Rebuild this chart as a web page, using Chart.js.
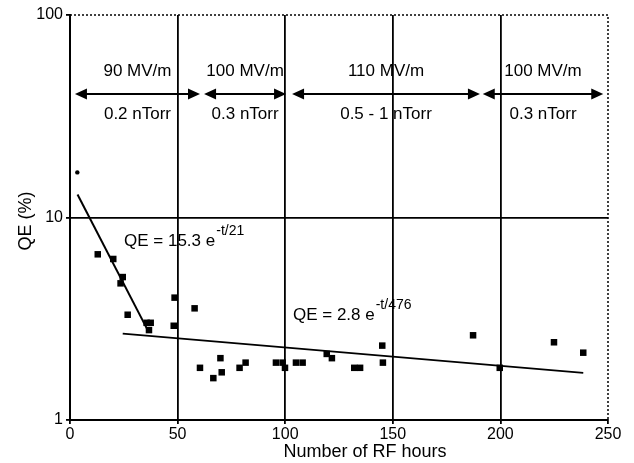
<!DOCTYPE html>
<html>
<head>
  <meta charset="utf-8">
  <title>QE vs RF hours</title>
  <script src="https://cdn.jsdelivr.net/npm/chart.js@4.4.0/dist/chart.umd.min.js"></script>
  <style>
    html, body { margin: 0; padding: 0; background: #fff; }
    #wrap { width: 634px; height: 463px; position: relative; }
  </style>
</head>
<body>
  <div id="wrap"><canvas id="qeChart"></canvas></div>
  <script>
    // measured points (hours, QE %)
    var hours = [3.4, 12.9, 20.1, 24.5, 23.5, 26.8, 35.6, 37.5, 36.7, 48.6, 48.2, 57.9, 60.4, 66.6, 69.9, 70.5,
                 78.8, 81.6, 95.7, 98.8, 99.9, 105, 108.1, 119.3, 121.7, 132.1, 134.8, 145.1, 145.4, 187.3,
                 199.7, 224.9, 238.5];
    var qe = [16.7, 6.58, 6.24, 5.08, 4.73, 3.31, 3.02, 3.02, 2.78, 4.02, 2.92, 3.56, 1.81, 1.61, 2.02, 1.72,
              1.81, 1.92, 1.92, 1.92, 1.81, 1.92, 1.92, 2.12, 2.02, 1.81, 1.81, 2.33, 1.92, 2.62,
              1.81, 2.42, 2.15];

    // fit lines (end points)
    var fit1Hours = [3.5, 36.7];
    var fit1QE = [13.0, 2.7];
    var fit2Hours = [24.5, 238.5];
    var fit2QE = [2.67, 1.71];

    // operating periods
    var periodStart = [2.3, 62.3, 103.2, 191.8];
    var periodEnd = [60.4, 100.4, 190.5, 247.8];
    var fieldLabels = ['90 MV/m', '100 MV/m', '110 MV/m', '100 MV/m'];
    var pressureLabels = ['0.2 nTorr', '0.3 nTorr', '0.5 - 1 nTorr', '0.3 nTorr'];
    var arrowLevel = 40.7;

    // fit equations
    var eqText = ['QE = 15.3 e', 'QE = 2.8 e'];
    var eqExp = ['-t/21', '-t/476'];
    var eqHours = [25.1, 103.6];
    var eqQE = [7.6, 3.3];

    var xTicks = [0, 50, 100, 150, 200, 250];
    var yTicks = [1, 10, 100];
    var xTitle = 'Number of RF hours';
    var yTitle = 'QE (%)';

    var FONT = '"Liberation Sans", Arial, sans-serif';

    function toXY(xs, ys) {
      return xs.map(function(x, i) { return { x: x, y: ys[i] } });
    }

    var annotations = {
      id: 'annotations',
      afterDatasetsDraw: function(chart) {
        var ctx = chart.ctx;
        var xs = chart.scales.x, ys = chart.scales.y;
        var area = chart.chartArea;
        ctx.save();

        // dotted top and right frame
        ctx.strokeStyle = '#000';
        ctx.lineWidth = 1.5;
        ctx.setLineDash([2, 2]);
        ctx.beginPath();
        ctx.moveTo(area.left, area.top);
        ctx.lineTo(area.right, area.top);
        ctx.lineTo(area.right, area.bottom);
        ctx.stroke();
        ctx.setLineDash([]);

        // period arrows
        var ay = ys.getPixelForValue(arrowLevel);
        ctx.fillStyle = '#000';
        ctx.lineWidth = 2;
        ctx.font = '17px ' + FONT;
        ctx.textAlign = 'center';
        ctx.textBaseline = 'middle';
        for (var i = 0; i < periodStart.length; i++) {
          var x1 = xs.getPixelForValue(periodStart[i]);
          var x2 = xs.getPixelForValue(periodEnd[i]);
          ctx.beginPath();
          ctx.moveTo(x1 + 8, ay);
          ctx.lineTo(x2 - 8, ay);
          ctx.stroke();
          ctx.beginPath();
          ctx.moveTo(x1, ay);
          ctx.lineTo(x1 + 12, ay - 5.5);
          ctx.lineTo(x1 + 12, ay + 5.5);
          ctx.closePath();
          ctx.fill();
          ctx.beginPath();
          ctx.moveTo(x2, ay);
          ctx.lineTo(x2 - 12, ay - 5.5);
          ctx.lineTo(x2 - 12, ay + 5.5);
          ctx.closePath();
          ctx.fill();
          var mid = (x1 + x2) / 2;
          ctx.fillText(fieldLabels[i], mid, ay - 23);
          ctx.fillText(pressureLabels[i], mid, ay + 20);
        }

        // equations
        ctx.textAlign = 'left';
        for (var j = 0; j < eqText.length; j++) {
          var ex = xs.getPixelForValue(eqHours[j]);
          var ey = ys.getPixelForValue(eqQE[j]);
          ctx.font = '17px ' + FONT;
          ctx.fillText(eqText[j], ex, ey);
          var w = ctx.measureText(eqText[j]).width;
          ctx.font = '14px ' + FONT;
          ctx.fillText(eqExp[j], ex + w + 1, ey - 10);
        }

        // axis titles
        ctx.font = '18px ' + FONT;
        ctx.textAlign = 'center';
        ctx.fillText(xTitle, 365, 452);
        ctx.translate(26, 221);
        ctx.rotate(-Math.PI / 2);
        ctx.fillText(yTitle, 0, 0);
        ctx.restore();
      }
    };

    var ctx = document.getElementById('qeChart').getContext('2d');
    window.qeChart = new Chart(ctx, {
      type: 'scatter',
      data: {
        datasets: [
          {
            label: 'QE',
            data: toXY(hours, qe),
            backgroundColor: '#000',
            borderColor: '#000',
            pointStyle: hours.map(function(h, i) { return i === 0 ? 'circle' : 'rect' }),
            pointRadius: hours.map(function(h, i) { return i === 0 ? 2.2 : 4.6 }),
            borderWidth: 0
          },
          {
            label: 'fit 1',
            data: toXY(fit1Hours, fit1QE),
            showLine: true,
            borderColor: '#000',
            borderWidth: 2,
            pointRadius: 0
          },
          {
            label: 'fit 2',
            data: toXY(fit2Hours, fit2QE),
            showLine: true,
            borderColor: '#000',
            borderWidth: 1.8,
            pointRadius: 0
          }
        ]
      },
      options: {
        responsive: true,
        maintainAspectRatio: false,
        animation: false,
        layout: { padding: { left: 0, right: 26, top: 15, bottom: 0 } },
        plugins: {
          legend: { display: false },
          tooltip: { enabled: false }
        },
        scales: {
          x: {
            type: 'linear',
            min: 0,
            max: 250,
            afterFit: function(scale) { scale.height = 43 },
            afterBuildTicks: function(scale) {
              scale.ticks = xTicks.map(function(v) { return { value: v } });
            },
            ticks: {
              color: '#000',
              font: { family: FONT, size: 16 },
              padding: 1,
              maxRotation: 0
            },
            grid: {
              color: function(c) {
                var v = c.tick ? c.tick.value : null;
                return (v > 0 && v < 250) ? '#000' : 'rgba(0,0,0,0)';
              },
              tickColor: '#000',
              lineWidth: 1.8,
              tickLength: 4
            },
            border: { display: true, color: '#000', width: 2 },
            title: { display: false }
          },
          y: {
            type: 'logarithmic',
            min: 1,
            max: 100,
            afterFit: function(scale) { scale.width = 70 },
            afterBuildTicks: function(scale) {
              scale.ticks = yTicks.map(function(v) { return { value: v } });
            },
            ticks: {
              color: '#000',
              font: { family: FONT, size: 16 },
              padding: 3,
              callback: function(v) { return String(v) }
            },
            grid: {
              color: function(c) {
                var v = c.tick ? c.tick.value : null;
                return v === 10 ? '#000' : 'rgba(0,0,0,0)';
              },
              tickColor: '#000',
              lineWidth: 1.8,
              tickLength: 4
            },
            border: { display: true, color: '#000', width: 2 },
            title: { display: false }
          }
        }
      },
      plugins: [annotations]
    });
  </script>
</body>
</html>
